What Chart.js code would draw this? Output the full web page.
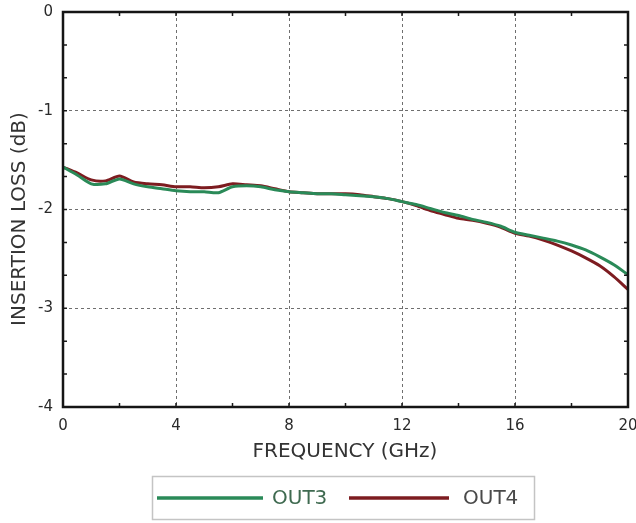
<!DOCTYPE html>
<html>
<head>
<meta charset="utf-8">
<script src="https://cdn.jsdelivr.net/npm/chart.js@4/dist/chart.umd.min.js"></script>
<style>
  html, body { margin: 0; padding: 0; background: #fff; }
  #wrap { width: 636px; height: 523px; position: relative; }
</style>
</head>
<body>
<div id="wrap"><canvas id="c" width="636" height="523"></canvas></div>
<script>
// ---- data ----
const freqGHz = [0,0.5,1,1.5,2,2.5,3,3.5,4,4.5,5,5.5,6,6.5,7,7.5,8,8.5,9,9.5,10,10.5,11,11.5,12,12.5,13,13.5,14,14.5,15,15.5,16,16.5,17,17.5,18,18.5,19,19.5,20];
const out3 = [-1.57,-1.65,-1.74,-1.74,-1.69,-1.74,-1.77,-1.79,-1.81,-1.82,-1.82,-1.83,-1.77,-1.76,-1.77,-1.80,-1.82,-1.83,-1.84,-1.84,-1.85,-1.86,-1.87,-1.89,-1.92,-1.95,-1.99,-2.03,-2.06,-2.10,-2.13,-2.17,-2.23,-2.26,-2.29,-2.32,-2.36,-2.41,-2.48,-2.56,-2.66];
const out4 = [-1.57,-1.63,-1.70,-1.71,-1.66,-1.72,-1.74,-1.75,-1.77,-1.77,-1.78,-1.77,-1.74,-1.75,-1.76,-1.79,-1.82,-1.83,-1.84,-1.84,-1.84,-1.85,-1.87,-1.89,-1.92,-1.96,-2.01,-2.05,-2.09,-2.11,-2.14,-2.18,-2.24,-2.27,-2.31,-2.36,-2.42,-2.49,-2.57,-2.68,-2.81];
const seriesNames = ['OUT3', 'OUT4'];
const xTicks = [0, 4, 8, 12, 16, 20];
const yTicks = [0, -1, -2, -3, -4];
const xTitle = 'FREQUENCY (GHz)';
const yTitle = 'INSERTION LOSS (dB)';

const GREEN = '#2a8a58';
const RED = '#7d1c20';
const FONT = '"DejaVu Sans", "Liberation Sans", sans-serif';

function pts(xs, ys) { return xs.map((x, i) => ({ x: x, y: ys[i] })); }

const framePlugin = {
  id: 'frame',
  afterDraw(chart) {
    const ctx = chart.ctx;
    const a = chart.chartArea;
    const xs = chart.scales.x, ys = chart.scales.y;
    ctx.save();
    // minor/major inward ticks
    ctx.strokeStyle = '#1a1a1a';
    ctx.lineWidth = 1.5;
    ctx.beginPath();
    for (let v = 0; v <= 20; v += 2) {
      const px = xs.getPixelForValue(v);
      ctx.moveTo(px, a.bottom); ctx.lineTo(px, a.bottom - 4);
      ctx.moveTo(px, a.top); ctx.lineTo(px, a.top + 4);
    }
    for (let k = 0; k <= 12; k++) {
      const py = ys.getPixelForValue(-k / 3);
      ctx.moveTo(a.left, py); ctx.lineTo(a.left + 4, py);
      ctx.moveTo(a.right, py); ctx.lineTo(a.right - 4, py);
    }
    ctx.stroke();
    // frame
    ctx.lineWidth = 2.5;
    ctx.strokeStyle = '#151515';
    ctx.strokeRect(a.left, a.top, a.right - a.left, a.bottom - a.top);
    // axis titles
    ctx.fillStyle = '#333';
    ctx.font = '20px ' + FONT;
    ctx.textAlign = 'center';
    ctx.textBaseline = 'middle';
    ctx.fillText(xTitle, 345, 452);
    ctx.save();
    ctx.translate(20, 219);
    ctx.rotate(-Math.PI / 2);
    ctx.fillText(yTitle, 0, 0);
    ctx.restore();
    // legend box
    ctx.strokeStyle = '#c4c4c4';
    ctx.lineWidth = 1.5;
    ctx.strokeRect(152.5, 476.5, 382, 43);
    const ly = 498;
    const items = [
      { x1: 157, x2: 263, tx: 272, tc: '#3f6a50' },
      { x1: 349, x2: 449, tx: 463, tc: '#4a4a4a' }
    ];
    chart.data.datasets.forEach((ds, i) => {
      const it = items[i];
      ctx.strokeStyle = ds.borderColor;
      ctx.lineWidth = 3.5;
      ctx.beginPath();
      ctx.moveTo(it.x1, ly); ctx.lineTo(it.x2, ly);
      ctx.stroke();
      ctx.fillStyle = it.tc;
      ctx.font = '20px ' + FONT;
      ctx.textAlign = 'left';
      ctx.textBaseline = 'middle';
      ctx.fillText(ds.label, it.tx, ly + 1);
    });
    ctx.restore();
  }
};

new Chart(document.getElementById('c'), {
  type: 'line',
  data: {
    datasets: [
      { label: seriesNames[0], data: pts(freqGHz, out3), borderColor: GREEN, borderWidth: 3, pointRadius: 0, tension: 0.25, fill: false },
      { label: seriesNames[1], data: pts(freqGHz, out4), borderColor: RED, borderWidth: 3, pointRadius: 0, tension: 0.25, fill: false }
    ]
  },
  options: {
    responsive: false,
    animation: false,
    layout: { padding: { left: 0, right: 8, top: 12, bottom: 0 } },
    plugins: { legend: { display: false }, tooltip: { enabled: false } },
    scales: {
      x: {
        type: 'linear', min: 0, max: 20,
        afterBuildTicks(s) { s.ticks = xTicks.map(v => ({ value: v })); },
        afterFit(s) { s.height = 116; s.paddingLeft = 0; s.paddingRight = 0; },
        grid: { color: '#6f6f6f', lineWidth: 1, drawTicks: false },
        border: { display: false, dash: [3, 3] },
        ticks: { padding: 10, color: '#2a2a2a', font: { family: FONT, size: 15 }, maxRotation: 0, autoSkip: false }
      },
      y: {
        type: 'linear', min: -4, max: 0,
        afterBuildTicks(s) { s.ticks = yTicks.map(v => ({ value: v })); },
        afterFit(s) { s.width = 63; s.paddingTop = 0; s.paddingBottom = 0; },
        grid: { color: '#6f6f6f', lineWidth: 1, drawTicks: false },
        border: { display: false, dash: [3, 3] },
        ticks: { padding: 10, color: '#2a2a2a', font: { family: FONT, size: 15 }, autoSkip: false }
      }
    }
  },
  plugins: [framePlugin]
});
</script>
</body>
</html>
